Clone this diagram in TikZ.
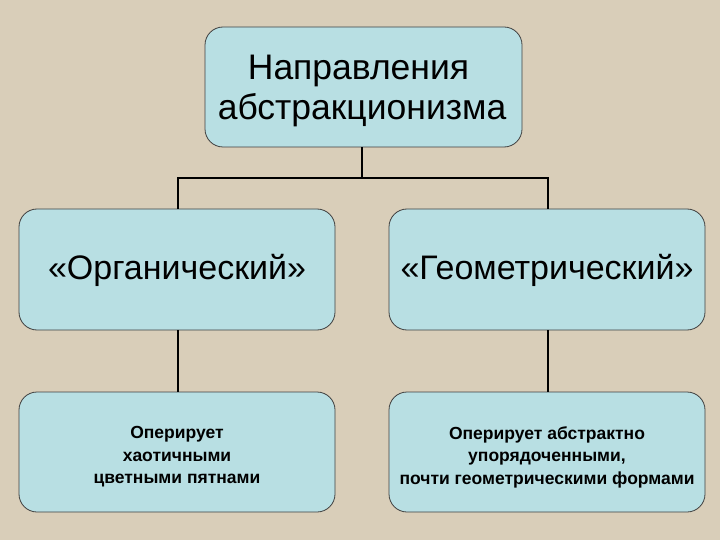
\documentclass[tikz,border=0pt]{standalone}
\usepackage{fontspec}
\setmainfont{Liberation Sans}
\begin{document}
\begin{tikzpicture}[x=1pt,y=-1pt,
  box/.style={draw=black!75, line width=0.8pt, fill=boxfill, rounded corners=18pt, inner sep=0pt, align=center},
  txt/.style={inner sep=0pt, align=center},
  conn/.style={draw=black, line width=1.6pt}]
\definecolor{bgcol}{HTML}{D9CEB9}
\definecolor{boxfill}{HTML}{B8DFE3}
\fill[bgcol] (0,0) rectangle (720,540);
\useasboundingbox (0,0) rectangle (720,540);
\node[box, minimum width=317pt, minimum height=120pt] (top) at (363.5,87) {};
\node[box, minimum width=316pt, minimum height=121pt] (ml) at (177,269.5) {};
\node[box, minimum width=316pt, minimum height=121pt] (mr) at (547,269.5) {};
\node[box, minimum width=316pt, minimum height=120pt] (bl) at (177,452) {};
\node[box, minimum width=316pt, minimum height=120pt] (br) at (547,452) {};
\node[txt, font=\fontsize{35.5}{40}\selectfont] (toptxt) at (362,91) {Направления\hspace*{7pt}\\абстракционизма};
\node[txt, font=\fontsize{34}{35}\selectfont] (mltxt) at (177,270) {«Органический»};
\node[txt, font=\fontsize{34}{35}\selectfont] (mrtxt) at (547,270) {«Геометрический»};
\node[txt, font=\bfseries\fontsize{17.5}{22.5}\selectfont] (bltxt) at (177,457) {Оперирует\\хаотичными\\цветными пятнами};
\node[txt, font=\bfseries\fontsize{17.5}{22.5}\selectfont] (brtxt) at (547,457) {Оперирует абстрактно\\упорядоченными,\\почти геометрическими формами};
\coordinate (j) at (362,178);
\draw[conn] (top.south -| j) -- (j);
\draw[conn] (ml.north -| 178,0) |- (j) -| (mr.north -| 548,0);
\draw[conn] (ml.south -| 178,0) -- (bl.north -| 178,0);
\draw[conn] (mr.south -| 548,0) -- (br.north -| 548,0);
\end{tikzpicture}
\end{document}
